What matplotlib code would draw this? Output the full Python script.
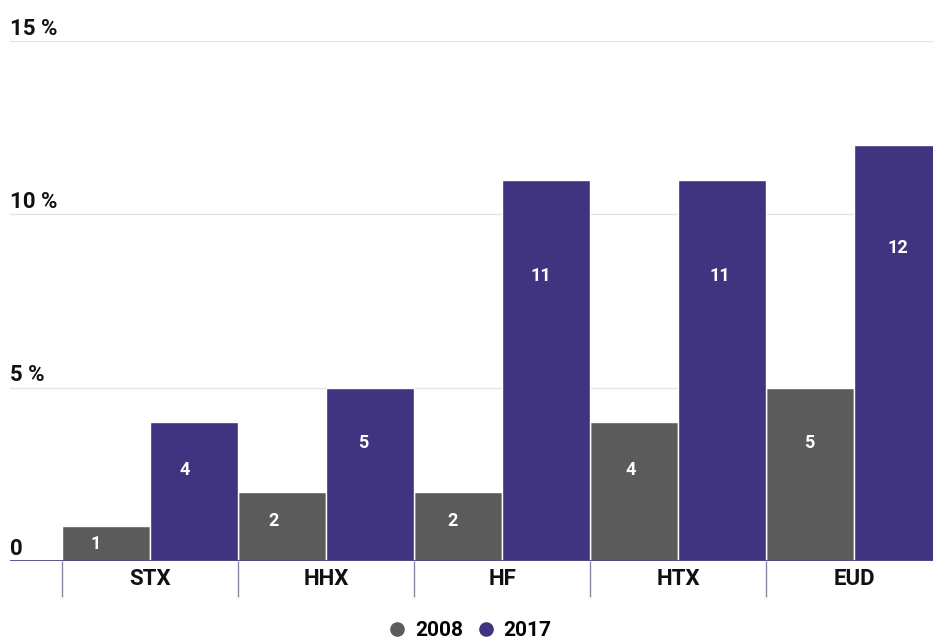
import matplotlib
matplotlib.use("Agg")
import matplotlib.pyplot as plt
from matplotlib.lines import Line2D
import numpy as np

plt.rcParams['font.family'] = ['Roboto', 'DejaVu Sans']
plt.rcParams['font.weight'] = 'bold'

categories = ['STX', 'HHX', 'HF', 'HTX', 'EUD']
years = ['2008', '2017']
vals_2008 = [1, 2, 2, 4, 5]
vals_2017 = [4, 5, 11, 11, 12]
ytick_vals = [0, 5, 10, 15]
ytick_labels = ['0', '5 %', '10 %', '15 %']

gray = '#5b5b5b'
purple = '#40337f'

fig = plt.figure(figsize=(9.33, 6.42), dpi=100)
ax = fig.add_axes([10/933, 81/642, 923/933, 520/642])

x = np.arange(len(categories))
w = 0.5
b1 = ax.bar(x - w/2, vals_2008, w, color=gray, edgecolor='white', linewidth=1, zorder=2)
b2 = ax.bar(x + w/2, vals_2017, w, color=purple, edgecolor='white', linewidth=1, zorder=2)

# value labels inside bars (labels sit on a slightly wider grid than the bars)
last_c = x[-1] + w/2
for bars, vals in [(b1, vals_2008), (b2, vals_2017)]:
    for r, v in zip(bars, vals):
        c = r.get_x() + r.get_width()/2
        lx = last_c - (last_c - c) * 1.0136
        ax.text(lx, v - 0.52 * v**0.7, str(v),
                ha='center', va='center', color='white', fontsize=13, fontweight='bold', zorder=3)

x0 = -0.5 - 52/176
x1 = -0.5 + (933-62)/176
ax.set_xlim(x0, x1)
ax.set_ylim(0, 15)

for v in ytick_vals[1:]:
    ax.axhline(v, color='#e2e2e2', lw=0.9, zorder=0)
ax.axhline(0, color='#4d4780', lw=1.3, zorder=4)

for v, lab in zip(ytick_vals, ytick_labels):
    ax.annotate(lab, (x0, v), xytext=(0, 1), textcoords='offset points',
                ha='left', va='bottom', fontsize=16, fontweight='bold', color='#111111')

# category separators
ax.vlines(np.arange(len(categories) + 1) - 0.5, 0, -1.05, color='#8a86a8', lw=1.0, clip_on=False)

ax.set_xticks(x)
ax.set_xticklabels(categories, fontsize=16, fontweight='bold', color='#111111')
ax.tick_params(axis='x', length=0, pad=5)
ax.set_yticks([])
for s in ax.spines.values():
    s.set_visible(False)

handles = [Line2D([], [], marker='o', ls='', color=gray, markersize=9.5),
           Line2D([], [], marker='o', ls='', color=purple, markersize=9.5)]
fig.legend(handles, years, loc='center', bbox_to_anchor=(0.503, 11/642), ncol=2, frameon=False,
           handletextpad=0.35, columnspacing=0.6, handlelength=1.0,
           prop={'size': 15, 'weight': 'bold'})

fig.savefig('out.png', dpi=100)
